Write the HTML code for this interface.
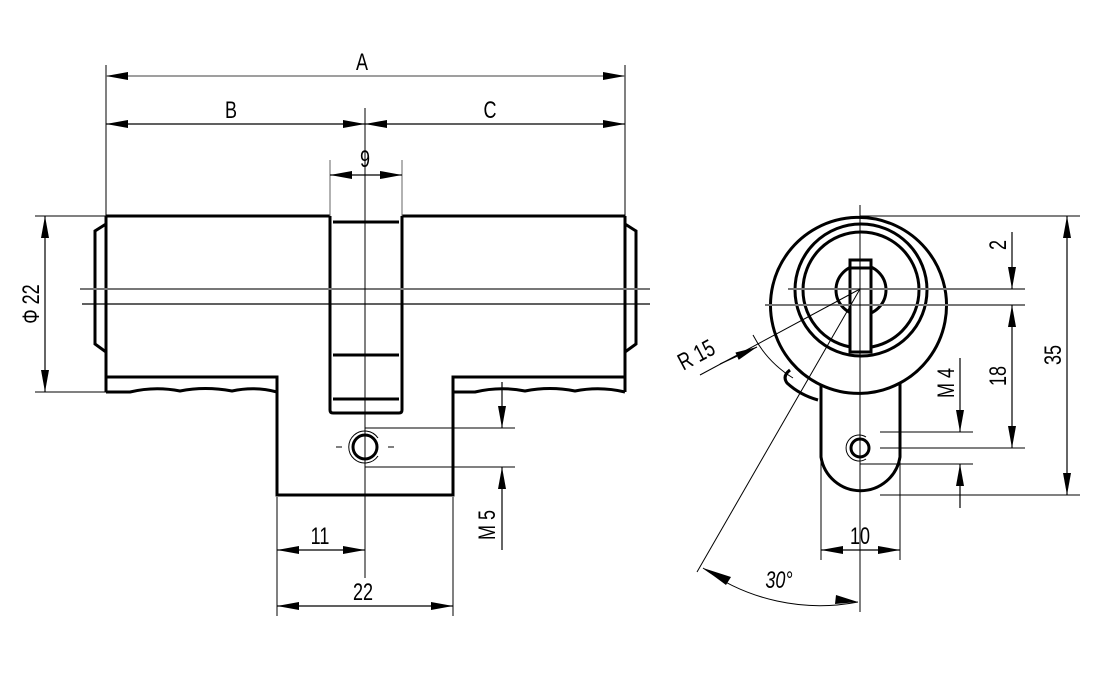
<!DOCTYPE html>
<html><head><meta charset="utf-8"><style>
html,body{margin:0;padding:0;background:#fff;}
svg{display:block;}
text{font-family:"Liberation Sans",sans-serif;font-size:24px;fill:#000;}
</style></head><body>
<svg width="1095" height="680" viewBox="0 0 1095 680" xmlns="http://www.w3.org/2000/svg">
<defs>
<marker id="a" viewBox="0 0 22 8" refX="22" refY="4" markerWidth="22" markerHeight="8" markerUnits="userSpaceOnUse" orient="auto-start-reverse">
<path d="M0,0 L22,4 L0,8 z" fill="#000"/></marker>
</defs>
<g fill="none" stroke="#000">
<g stroke-width="3">
<path d="M106,216 H330 M402,216 H625"/>
<path d="M106,216 V392 M625,216 V392"/>
<path d="M330,216 V410 Q330,413 333,413 H399 Q402,413 402,410 V216"/>
<path d="M333,222 H399"/>
<path d="M333,355 H399 M333,399 H399"/>
<path d="M106,377 H277 V495 H453 V377 H625"/>
<path d="M106,392 H130 Q155,386 180,391 Q205,386 232,391 Q255,386 277,392"/>
<path d="M453,392 H475 Q500,386 525,391 Q550,386 575,391 Q600,386 625,392"/>
<path d="M106,224 L95,231 V344 L106,352"/>
<path d="M625,224 L636,231 V344 L625,352"/>
<circle cx="365" cy="447" r="12"/>
</g>
<g stroke-width="1">
<path d="M378,438 A16,16 0 1 0 378,456"/>
<path d="M336,447 H342 M388,447 H394"/>
</g>
<path d="M80,289 H650" stroke="#777" stroke-width="2"/>
<path d="M82,304 H650" stroke-width="1.2"/>
<path d="M365,108 V578" stroke-width="1"/>
<g stroke-width="1">
<path d="M106,65 V216 M625,65 V216"/>
<path d="M330,160 V216 M402,160 V216" stroke="#666"/>
<path d="M35,216 H106 M35,392 H106"/>
<path d="M277,497 V616 M453,497 V616"/>
<path d="M365,428 H515 M365,467 H515"/>
</g>
<g stroke-width="1.2">
<line x1="106" y1="76" x2="625" y2="76" stroke="#666" marker-start="url(#a)" marker-end="url(#a)"/>
<line x1="106" y1="124" x2="365" y2="124" marker-start="url(#a)" marker-end="url(#a)"/>
<line x1="365" y1="124" x2="625" y2="124" marker-start="url(#a)" marker-end="url(#a)"/>
<line x1="330" y1="175" x2="402" y2="175" marker-start="url(#a)" marker-end="url(#a)"/>
<line x1="45" y1="216" x2="45" y2="392" marker-start="url(#a)" marker-end="url(#a)"/>
<line x1="502" y1="382" x2="502" y2="428" marker-end="url(#a)"/>
<line x1="502" y1="550" x2="502" y2="467" marker-end="url(#a)"/>
<line x1="277" y1="550" x2="365" y2="550" marker-start="url(#a)" marker-end="url(#a)"/>
<line x1="277" y1="606" x2="453" y2="606" marker-start="url(#a)" marker-end="url(#a)"/>
</g>

<!-- RIGHT VIEW -->
<g stroke-width="3">
<path d="M821,385 V457 A40,40 0 0 0 900,457 V383"/>
<path d="M821,385 A88,88 0 1 1 900,383 A88,88 0 0 1 821,385 Z"/>
<circle cx="861" cy="290" r="66"/>
<circle cx="861" cy="290" r="58"/>
<circle cx="861" cy="290" r="25"/>
<rect x="850" y="260" width="21" height="92" fill="#fff"/>
<path d="M850,268 H871"/>
<path d="M871,322 V330"/>
<path d="M790,370 Q782,376 787,383 Q800,395 818,400"/>
<circle cx="860" cy="448" r="9"/>
</g>
<g stroke-width="1">
<path d="M866,437 A13,13 0 1 0 866,459"/>
</g>
<path d="M788,289 H1025 M765,305 H1025" stroke="#777" stroke-width="2"/>
<g stroke-width="1">
<path d="M860,205 V612"/>
<path d="M860,216 H1080 M880,495 H1080 M880,448 H1025 M880,432 H973 M860,464 H973"/>
<path d="M821,460 V560 M900,460 V560"/>
<path d="M700,375 L860,289"/>
<path d="M697,572 L860,289"/>
<path d="M753,335 A110,110 0 0 0 793,378"/>
<path d="M703,568 A200,200 0 0 0 858,602"/>
</g>
<g stroke-width="1.2">
<line x1="720" y1="364" x2="757" y2="347" marker-end="url(#a)"/>
<line x1="1012" y1="232" x2="1012" y2="289" marker-end="url(#a)"/>
<line x1="1012" y1="305" x2="1012" y2="448" marker-start="url(#a)" marker-end="url(#a)"/>
<line x1="1067" y1="216" x2="1067" y2="495" marker-start="url(#a)" marker-end="url(#a)"/>
<line x1="960" y1="358" x2="960" y2="432" marker-end="url(#a)"/>
<line x1="960" y1="508" x2="960" y2="464" marker-end="url(#a)"/>
<line x1="821" y1="550" x2="900" y2="550" marker-start="url(#a)" marker-end="url(#a)"/>
</g>
<path d="M703,568 L726,585 L731,577 Z M858,602 L836,595 L835,604 Z" fill="#000" stroke="none"/>
</g>

<text transform="translate(362,70) scale(0.75,1)" text-anchor="middle">A</text>
<text transform="translate(231,118) scale(0.75,1)" text-anchor="middle">B</text>
<text transform="translate(490,118) scale(0.75,1)" text-anchor="middle">C</text>
<text transform="translate(365,167) scale(0.75,1)" text-anchor="middle">9</text>
<text transform="translate(320,544) scale(0.75,1)" text-anchor="middle">11</text>
<text transform="translate(363,600) scale(0.75,1)" text-anchor="middle">22</text>
<text transform="translate(860,544) scale(0.75,1)" text-anchor="middle">10</text>
<text transform="translate(39,304) rotate(-90) scale(0.75,1)" text-anchor="middle">Φ 22</text>
<text transform="translate(495,525) rotate(-90) scale(0.75,1)" text-anchor="middle">M 5</text>
<text transform="translate(954,383) rotate(-90) scale(0.75,1)" text-anchor="middle">M 4</text>
<text transform="translate(1006,245) rotate(-90) scale(0.75,1)" text-anchor="middle">2</text>
<text transform="translate(1006,376) rotate(-90) scale(0.75,1)" text-anchor="middle">18</text>
<text transform="translate(1061,355) rotate(-90) scale(0.75,1)" text-anchor="middle">35</text>
<text transform="translate(700,362) rotate(-28) scale(0.75,1)" text-anchor="middle">R 15</text>
<text transform="translate(779,588) scale(0.75,1)" text-anchor="middle" font-style="italic">30°</text>
</svg>
</body></html>
